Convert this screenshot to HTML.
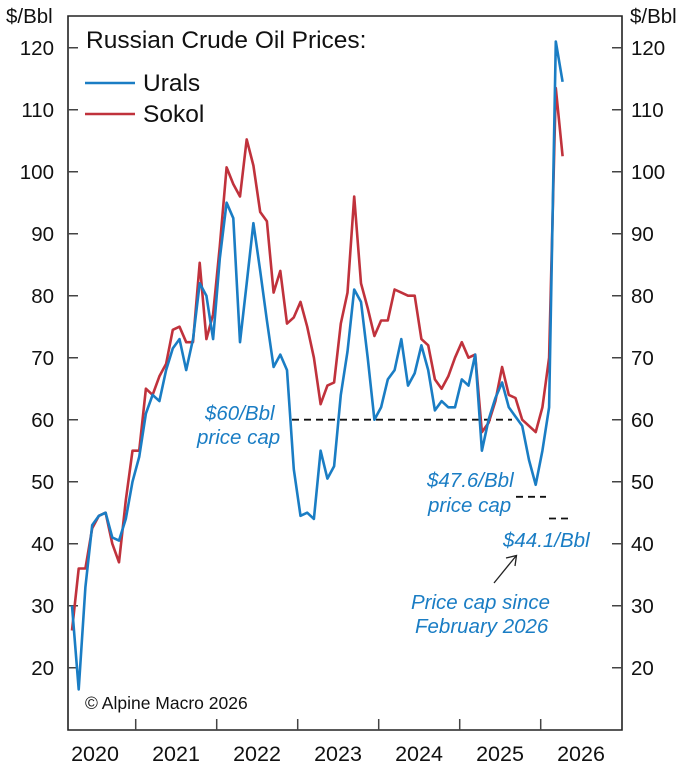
<!DOCTYPE html>
<html><head><meta charset="utf-8"><style>
html,body{margin:0;padding:0;background:#fff;}
svg{display:block;font-family:"Liberation Sans",Arial,sans-serif;}
</style></head><body>
<svg width="696" height="768" viewBox="0 0 696 768" xmlns="http://www.w3.org/2000/svg">
<rect width="696" height="768" fill="#fff"/>
<path d="M68 16 H622 V730 H68 Z" fill="none" stroke="#222" stroke-width="1.6"/>
<g stroke="#444" stroke-width="1.5">
<path d="M68 47.7h10M68 109.7h10M68 171.7h10M68 233.7h10M68 295.7h10M68 357.7h10M68 419.7h10M68 481.7h10M68 543.7h10M68 605.7h10M68 667.7h10"/>
<path d="M622 47.7h-10M622 109.7h-10M622 171.7h-10M622 233.7h-10M622 295.7h-10M622 357.7h-10M622 419.7h-10M622 481.7h-10M622 543.7h-10M622 605.7h-10M622 667.7h-10"/>
<path d="M135.7 730v-11M216.7 730v-11M297.7 730v-11M378.7 730v-11M459.7 730v-11M540.7 730v-11"/>
</g>
<g font-size="20.5" fill="#111" text-anchor="end">
<text x="54" y="55">120</text><text x="54" y="117">110</text><text x="54" y="179">100</text>
<text x="54" y="241">90</text><text x="54" y="303">80</text><text x="54" y="365">70</text>
<text x="54" y="427">60</text><text x="54" y="489">50</text><text x="54" y="551">40</text>
<text x="54" y="613">30</text><text x="54" y="675">20</text>
</g>
<g font-size="20.5" fill="#111">
<text x="631" y="55">120</text><text x="631" y="117">110</text><text x="631" y="179">100</text>
<text x="631" y="241">90</text><text x="631" y="303">80</text><text x="631" y="365">70</text>
<text x="631" y="427">60</text><text x="631" y="489">50</text><text x="631" y="551">40</text>
<text x="631" y="613">30</text><text x="631" y="675">20</text>
<text x="6" y="23">$/Bbl</text><text x="630" y="23">$/Bbl</text>
</g>
<g font-size="21.5" fill="#111" text-anchor="middle">
<text x="95" y="761">2020</text><text x="176" y="761">2021</text><text x="257" y="761">2022</text>
<text x="338" y="761">2023</text><text x="419" y="761">2024</text><text x="500" y="761">2025</text>
<text x="581" y="761">2026</text>
</g>
<text x="86" y="48" font-size="24.5" fill="#111">Russian Crude Oil Prices:</text>
<line x1="85" y1="83" x2="135" y2="83" stroke="#1a7dc4" stroke-width="2.6"/>
<text x="143" y="91" font-size="24.5" fill="#111">Urals</text>
<line x1="85" y1="114" x2="135" y2="114" stroke="#c0323c" stroke-width="2.6"/>
<text x="143" y="122" font-size="24.5" fill="#111">Sokol</text>
<text x="85" y="709" font-size="17.5" fill="#111">© Alpine Macro 2026</text>
<g stroke="#111" stroke-width="1.8" stroke-dasharray="7,5">
<line x1="292" y1="419.7" x2="512" y2="419.7"/>
<line x1="516" y1="496.8" x2="546" y2="496.8"/>
<line x1="549" y1="518.5" x2="572" y2="518.5"/>
</g>
<g transform="matrix(1 0 0 -6.2 0 791.7)" fill="none" stroke-linejoin="round">
<polyline vector-effect="non-scaling-stroke" stroke="#c0323c" stroke-width="2.6" points="72,26 78.7,36 85.4,36 92.2,42.5 98.9,44.5 105.6,45 112.3,40 119,37 125.8,47 132.5,55 139.2,55 145.9,65 152.6,64 159.4,67 166.1,69 172.8,74.5 179.5,75 186.2,72.5 193,72.5 199.7,85.3 206.4,73 213.1,77 219.8,88 226.6,100.7 233.3,98 240,96 246.7,105.2 253.4,101 260.2,93.5 266.9,92 273.6,80.5 280.3,84 287,75.5 293.8,76.5 300.5,79 307.2,75 313.9,70 320.6,62.5 327.4,65.5 334.1,66 340.8,75.5 347.5,80.5 354.2,96 361,82 367.7,78 374.4,73.5 381.1,76 387.8,76 394.6,81 401.3,80.5 408,80 414.7,80 421.4,73 428.2,72 434.9,66.5 441.6,65 448.3,67 455,70 461.8,72.5 468.5,70 475.2,70.5 481.9,58 488.6,59.5 495.4,63 502.1,68.5 508.8,64 515.5,63.5 522.2,60 529,59 535.7,58 542.4,62 549.1,70 555.8,113.5 562.6,102.5"/>
<polyline vector-effect="non-scaling-stroke" stroke="#1a7dc4" stroke-width="2.6" points="72,30 78.7,16.5 85.4,33 92.2,43 98.9,44.5 105.6,45 112.3,41 119,40.5 125.8,44 132.5,50 139.2,54 145.9,61 152.6,64 159.4,63 166.1,68 172.8,71.5 179.5,73 186.2,68 193,73 199.7,82 206.4,80 213.1,73 219.8,86 226.6,95 233.3,92.5 240,72.5 246.7,82 253.4,91.7 260.2,84 266.9,76 273.6,68.5 280.3,70.5 287,68 293.8,52 300.5,44.5 307.2,45 313.9,44 320.6,55 327.4,50.5 334.1,52.5 340.8,64 347.5,71 354.2,81 361,79 367.7,70 374.4,60 381.1,62 387.8,66.5 394.6,68 401.3,73 408,65.5 414.7,67.5 421.4,72 428.2,68 434.9,61.5 441.6,63 448.3,62 455,62 461.8,66.5 468.5,65.5 475.2,70.5 481.9,55 488.6,60 495.4,63.5 502.1,66 508.8,62 515.5,60.5 522.2,59 529,53.5 535.7,49.5 542.4,55 549.1,62 555.8,121 562.6,114.5"/>
</g>
<g font-size="20.5" fill="#1a7dc4" font-style="italic">
<text x="205" y="420">$60/Bbl</text>
<text x="197" y="444">price cap</text>
<text x="427" y="487">$47.6/Bbl</text>
<text x="428" y="512">price cap</text>
<text x="503" y="547">$44.1/Bbl</text>
<text x="411" y="609">Price cap since</text>
<text x="415" y="633">February 2026</text>
</g>
<line x1="494" y1="583" x2="516" y2="556" stroke="#222" stroke-width="1.3"/>
<path d="M506 558 L516.5 555.5 L515 566" fill="none" stroke="#222" stroke-width="1.3"/>
</svg>
</body></html>
